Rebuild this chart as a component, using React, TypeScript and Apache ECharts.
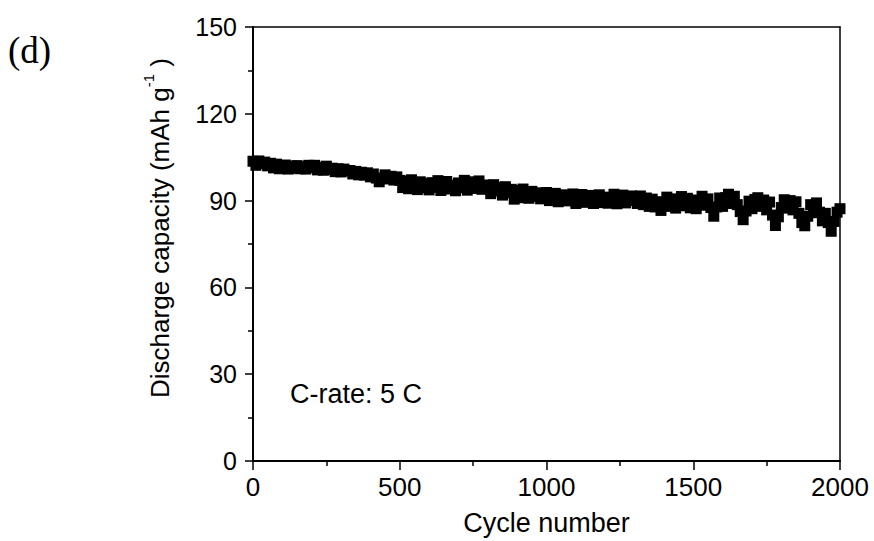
import React, { useEffect, useRef } from "react";
import * as echarts from "echarts";

// Cycle step between recorded points (cycles)
const CYCLE_STEP = 10;

// Discharge capacity (mAh g-1), one value every 10 cycles from 0 to 2000
const capacity: number[] = [
  103.6, 102.2, 103.7, 102.8, 103.3, 102.0, 102.9, 101.3, 102.6, 101.0,
  101.8, 102.3, 100.9, 101.9, 101.2, 102.1, 101.0, 101.7, 100.9, 102.2,
  101.4, 102.2, 100.6, 101.5, 100.5, 101.9, 100.7, 101.2, 100.0, 101.0,
  99.9, 100.9, 100.2, 100.4, 99.2, 100.1, 98.9, 99.8, 98.8, 99.6,
  98.2, 99.2, 97.8, 96.5, 97.6, 98.9, 97.5, 98.4, 97.1, 98.2,
  97.0, 94.5, 96.8, 94.1, 97.2, 95.0, 93.8, 96.5, 94.4, 95.9,
  93.7, 96.2, 94.6, 96.9, 93.5, 95.8, 96.6, 94.0, 95.3, 93.4,
  96.1, 94.5, 97.0, 93.6, 95.7, 96.5, 94.2, 96.8, 93.9, 95.4,
  95.2, 92.4, 95.5, 93.3, 94.6, 91.9, 94.8, 92.7, 93.9, 90.5,
  93.5, 91.0, 94.0, 92.2, 90.8, 93.2, 91.4, 92.7, 90.6, 92.0,
  92.8, 90.0, 91.6, 92.5, 89.6, 91.2, 92.0, 89.9, 90.7, 92.3,
  89.0, 91.5, 92.1, 89.4, 90.3, 91.8, 89.0, 90.9, 92.0, 89.3,
  91.2, 89.1, 90.2, 92.2, 88.9, 90.6, 91.9, 89.2, 90.0, 91.6,
  90.8, 89.0, 91.6, 88.6, 90.9, 88.0, 90.5, 87.8, 89.6, 86.6,
  89.4, 91.2, 88.0, 90.6, 87.4, 90.0, 91.4, 88.2, 90.8, 87.5,
  90.2, 87.2, 89.8, 91.5, 88.4, 90.6, 87.6, 84.6, 87.8, 90.9,
  88.0, 91.0, 92.2, 89.0, 91.5, 88.6, 86.2, 83.4, 86.4, 89.8,
  87.2, 90.4, 91.0, 88.0, 90.2, 86.8, 89.5, 85.0, 81.4, 84.4,
  87.6, 90.3, 87.4, 90.0, 86.8, 89.6, 85.6, 82.4, 81.3, 84.6,
  88.6, 85.8, 89.2, 86.0, 83.0, 85.6, 82.4, 79.4, 82.8, 86.0,
  87.2,
];

const cycles: number[] = capacity.map((_, i) => i * CYCLE_STEP);

const X_MIN = 0;
const X_MAX = 2000;
const X_INTERVAL = 500;
const Y_MIN = 0;
const Y_MAX = 150;
const Y_INTERVAL = 30;

const panelLabel = "(d)";
const xTitle = "Cycle number";
const yTitleMain = "Discharge capacity (mAh g";
const yTitleSup = "-1";
const annotation = "C-rate: 5 C";

const SANS = "'Liberation Sans', Arial, sans-serif";
const SERIF = "'Liberation Serif', 'Times New Roman', serif";

export default function App() {
  const ref = useRef<HTMLDivElement>(null);

  useEffect(() => {
    if (!ref.current) return;
    const chart = echarts.init(ref.current, undefined, { renderer: "svg" });

    const axisLineStyle = { color: "#000", width: 2 };

    const option: any = {
      animation: false,
      backgroundColor: "#fff",
      grid: { left: 253, right: 34, top: 27, bottom: 79, containLabel: false },
      xAxis: [
        {
          type: "value",
          position: "bottom",
          min: X_MIN,
          max: X_MAX,
          interval: X_INTERVAL,
          axisLine: { show: true, onZero: false, lineStyle: axisLineStyle },
          axisTick: { show: true, inside: false, length: 9, lineStyle: { color: "#000", width: 1.5 } },
          minorTick: { show: true, splitNumber: 2, length: 5, lineStyle: { color: "#000", width: 1.5 } },
          splitLine: { show: false },
          axisLabel: {
            show: true,
            margin: 13,
            color: "#000",
            fontFamily: SANS,
            fontSize: 26,
            formatter: (v: number) => String(v),
          },
          name: xTitle,
          nameLocation: "middle",
          nameGap: 48,
          nameTextStyle: { color: "#000", fontFamily: SANS, fontSize: 27 },
        },
        {
          type: "value",
          position: "top",
          min: X_MIN,
          max: X_MAX,
          interval: X_INTERVAL,
          axisLine: { show: true, onZero: false, lineStyle: { color: "#000", width: 1.5 } },
          axisTick: { show: false },
          axisLabel: { show: false },
          splitLine: { show: false },
        },
      ],
      yAxis: [
        {
          type: "value",
          position: "left",
          min: Y_MIN,
          max: Y_MAX,
          interval: Y_INTERVAL,
          axisLine: { show: true, onZero: false, lineStyle: axisLineStyle },
          axisTick: { show: true, inside: false, length: 8, lineStyle: { color: "#000", width: 1.5 } },
          minorTick: { show: true, splitNumber: 2, length: 5, lineStyle: { color: "#000", width: 1.5 } },
          splitLine: { show: false },
          axisLabel: {
            show: true,
            margin: 16,
            color: "#000",
            fontFamily: SANS,
            fontSize: 25,
          },
        },
        {
          type: "value",
          position: "right",
          min: Y_MIN,
          max: Y_MAX,
          interval: Y_INTERVAL,
          axisLine: { show: true, onZero: false, lineStyle: { color: "#000", width: 1.5 } },
          axisTick: { show: false },
          axisLabel: { show: false },
          splitLine: { show: false },
        },
      ],
      series: [
        {
          type: "scatter",
          xAxisIndex: 0,
          yAxisIndex: 0,
          symbol: "rect",
          symbolSize: 11,
          itemStyle: { color: "#000", opacity: 1 },
          data: cycles.map((c, i) => [c, capacity[i]]),
          z: 3,
        },
      ],
      graphic: [
        {
          type: "text",
          left: 8,
          top: 32,
          style: {
            text: panelLabel,
            fontFamily: SERIF,
            fontSize: 37,
            fill: "#000",
          },
        },
        {
          type: "text",
          x: 157,
          y: 228,
          rotation: Math.PI / 2,
          style: {
            text: `{m|${yTitleMain}}{s|${yTitleSup}}{m| )}`,
            align: "center",
            verticalAlign: "middle",
            rich: {
              m: { fontFamily: SANS, fontSize: 26, fill: "#000", lineHeight: 32, verticalAlign: "bottom" },
              s: { fontFamily: SANS, fontSize: 15, fill: "#000", lineHeight: 15, verticalAlign: "top" },
            },
          },
        },
        {
          type: "text",
          x: 290,
          y: 394,
          style: {
            text: annotation,
            fontFamily: SANS,
            fontSize: 27,
            fill: "#000",
            align: "left",
            verticalAlign: "middle",
          },
        },
      ],
    };

    chart.setOption(option);
    return () => {
      chart.dispose();
    };
  }, []);

  return (
    <div
      ref={ref}
      style={{ position: "fixed", left: 0, top: 0, width: 874, height: 541, background: "#fff" }}
    />
  );
}
